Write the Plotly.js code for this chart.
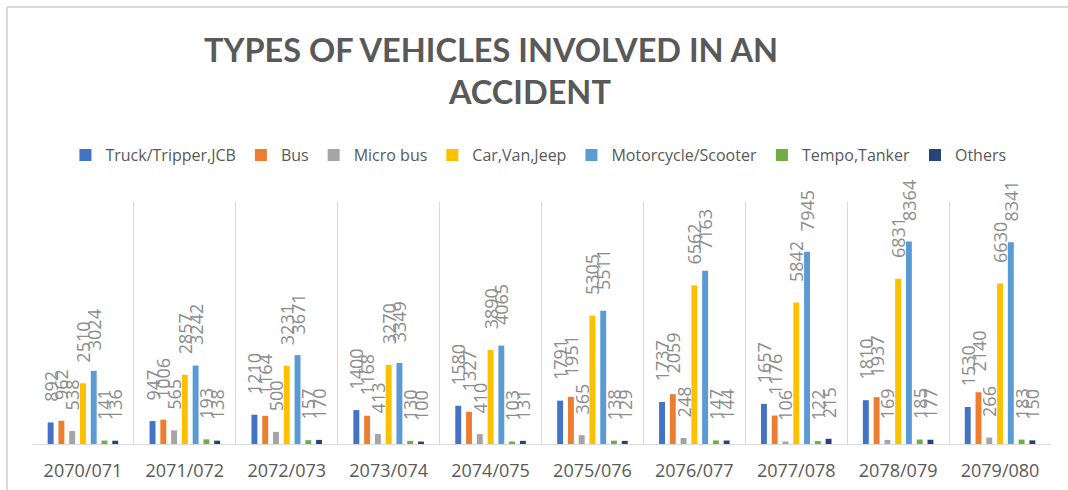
<!DOCTYPE html>
<html>
<head>
<meta charset="utf-8">
<script src="https://cdn.plot.ly/plotly-3.0.1.min.js"></script>
<style>
html,body{margin:0;padding:0;background:#fff;}
#chart{width:1068px;height:490px;}
</style>
</head>
<body>
<div id="chart"></div>
<script>
const years = ["2070/071","2071/072","2072/073","2073/074","2074/075","2075/076","2076/077","2077/078","2078/079","2079/080"];
const truck = [892, 947, 1210, 1400, 1580, 1791, 1737, 1657, 1810, 1530];
const bus = [962, 1006, 1164, 1168, 1327, 1951, 2059, 1176, 1937, 2140];
const microBus = [538, 565, 500, 413, 410, 365, 248, 106, 169, 266];
const car = [2510, 2857, 3231, 3270, 3890, 5305, 6562, 5842, 6831, 6630];
const motorcycle = [3024, 3242, 3671, 3349, 4065, 5511, 7163, 7945, 8364, 8341];
const tempo = [141, 193, 157, 130, 103, 138, 147, 122, 185, 183];
const others = [136, 138, 170, 100, 131, 129, 144, 215, 177, 150];

const seriesNames = ["Truck/Tripper,JCB","Bus","Micro bus","Car,Van,Jeep","Motorcycle/Scooter","Tempo,Tanker","Others"];
const seriesValues = [truck, bus, microBus, car, motorcycle, tempo, others];
const seriesColors = ["#4472C4","#ED7D31","#A5A5A5","#FFC000","#5B9BD5","#70AD47","#264478"];

const traces = seriesNames.map((name, i) => ({
  type: "bar",
  name: name,
  x: years,
  y: seriesValues[i],
  marker: {color: seriesColors[i]},
  texttemplate: "<span style='color:rgba(0,0,0,0)'>00</span>%{y}",
  textposition: "outside",
  textangle: -90,
  constraintext: "none",
  cliponaxis: false,
  textfont: {family: "Open Sans, sans-serif", size: 18, color: "#8c8c8c"},
  hoverinfo: "x+y+name"
}));

const layout = {
  width: 1068,
  height: 490,
  paper_bgcolor: "#ffffff",
  plot_bgcolor: "#ffffff",
  margin: {l: 32, r: 17, t: 202, b: 46},
  barmode: "group",
  bargap: 0.26,
  bargroupgap: 0.45,
  title: {
    text: "TYPES OF VEHICLES INVOLVED IN AN<br>" + "\u00A0".repeat(10) + "ACCIDENT",
    font: {family: "Lato, sans-serif", size: 32.5, color: "#595959", weight: "bold"},
    x: 491 / 1068,
    xanchor: "center",
    xref: "container",
    y: 1 - 62 / 490,
    yanchor: "top"
  },
  showlegend: true,
  legend: {
    orientation: "h",
    x: 0.497,
    xanchor: "center",
    y: 1 + (202 - 155) / 242,
    yanchor: "middle",
    font: {family: "Open Sans, sans-serif", size: 16, color: "#595959"},
    itemwidth: 30,
    traceorder: "normal",
    bgcolor: "rgba(0,0,0,0)"
  },
  xaxis: {
    type: "category",
    showgrid: true,
    gridcolor: "#d9d9d9",
    gridwidth: 1,
    tickson: "boundaries",
    ticks: "",
    showline: true,
    linecolor: "#d9d9d9",
    linewidth: 1,
    mirror: false,
    ticklabelstandoff: 10,
    tickfont: {family: "Open Sans, sans-serif", size: 18, color: "#595959"},
    zeroline: false
  },
  yaxis: {
    range: [0, 10000],
    visible: false,
    showgrid: false,
    zeroline: false,
    fixedrange: true
  },
  shapes: [
    {type: "line", xref: "paper", yref: "paper", x0: -25/1019, x1: 1036/1019, y0: 1 + (202 - 7) / 242, y1: 1 + (202 - 7) / 242, line: {color: "#d9d9d9", width: 2}},
    {type: "line", xref: "paper", yref: "paper", x0: -25/1019, x1: -25/1019, y0: 1 + (202 - 7) / 242, y1: -46 / 242, line: {color: "#d9d9d9", width: 2}}
  ]
};

Plotly.newPlot("chart", traces, layout, {displayModeBar: false, staticPlot: true});
</script>
</body>
</html>
